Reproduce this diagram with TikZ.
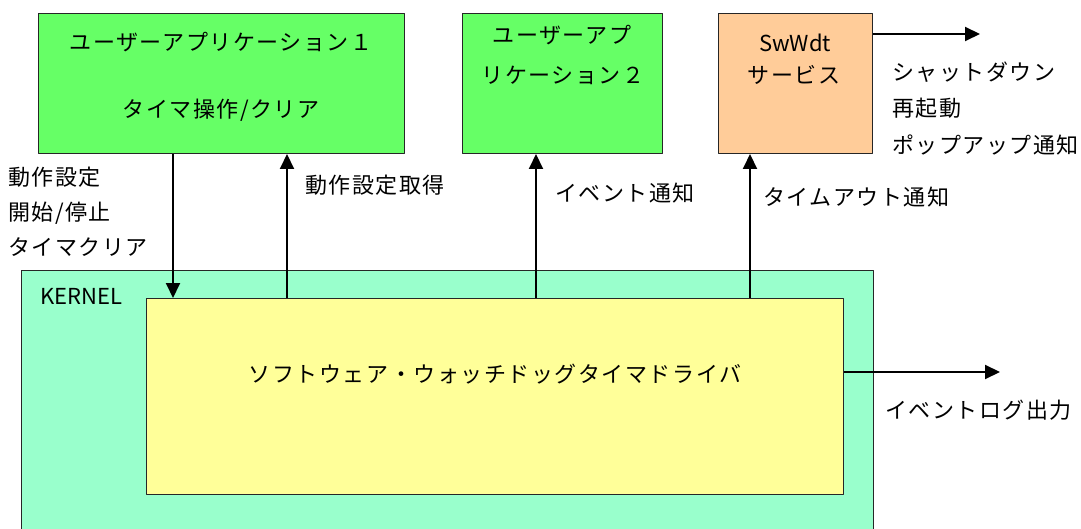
\documentclass[tikz,border=0pt]{standalone}
\usepackage{fontspec}
\setmainfont{Noto Sans CJK JP}[LetterSpace=7]
\newfontfamily\latinfont{Noto Sans CJK JP}
\usetikzlibrary{arrows.meta}
\definecolor{appgreen}{RGB}{102,255,102}
\definecolor{swpeach}{RGB}{255,204,153}
\definecolor{kernelmint}{RGB}{153,255,204}
\definecolor{drvyellow}{RGB}{255,255,153}
\begin{document}
\begin{tikzpicture}[x=1pt, y=-1pt, >={Triangle[length=15pt,width=14pt]}, font=\fontsize{22}{26}\selectfont, line join=round,
	box/.style={draw=black!85, line width=1pt, anchor=north west, inner sep=0pt},
	lbl/.style={anchor=west, inner sep=0pt},
	txt/.style={inner sep=0pt},
	flow/.style={->, line width=2pt}]
			\useasboundingbox (0,0) rectangle (1081,529);
			% Kasten
			\node[box, fill=kernelmint, minimum width=852, minimum height=262] (kernel) at (21,270) {};
			\node[box, fill=drvyellow, minimum width=697, minimum height=196] (drv) at (146,298) {};
			\node[box, fill=appgreen, minimum width=366, minimum height=140] (app1) at (38,13) {};
			\node[box, fill=appgreen, minimum width=200, minimum height=140] (app2) at (462,13) {};
			\node[box, fill=swpeach, minimum width=154, minimum height=140] (sw) at (718,13) {};
			% Texte
			\node[txt] (app1name) at (221,42) {ユーザーアプリケーション１};
			\node[txt] (app1op) at (221,110) {タイマ操作/クリア};
			\node[txt] (app2a) at (562,35) {ユーザーアプ};
			\node[txt] (app2b) at (563,75) {リケーション２};
			\node[txt] (swname) at (795,43) {\latinfont SwWdt};
			\node[txt] (swsvc) at (794,75) {サービス};
			\node[lbl] (kname) at (40,296) {\latinfont KERNEL};
			\node[txt] (drvname) at (495,374) {ソフトウェア・ウォッチドッグタイマドライバ};
			% Pfeile
			\coordinate (c1) at (173,0); \coordinate (c2) at (287,0);
			\coordinate (c3) at (536,0); \coordinate (c4) at (750,0);
			\coordinate (swout) at (980,34); \coordinate (logout) at (1000,372);
			\draw[flow] (app1.south -| c1) -- (drv.north -| c1);
			\draw[flow] (drv.north -| c2) -- (app1.south -| c2);
			\draw[flow] (drv.north -| c3) -- (app2.south -| c3);
			\draw[flow] (drv.north -| c4) -- (sw.south -| c4);
			\draw[flow] (sw.east |- swout) -- (swout);
			\draw[flow] (drv.east |- logout) -- (logout);
			% Beschriftungen
			\node[lbl] (set1) at (8,177) {動作設定};
			\node[lbl] (set2) at (8,213) {開始/停止};
			\node[lbl] (set3) at (8,247) {タイマクリア};
			\node[lbl] (get) at (305,185) {動作設定取得};
			\node[lbl] (evt) at (555,193) {イベント通知};
			\node[lbl] (tmo) at (763,197) {タイムアウト通知};
			\node[lbl] (out1) at (892,72) {シャットダウン};
			\node[lbl] (out2) at (892,108) {再起動};
			\node[lbl] (out3) at (892,145) {ポップアップ通知};
			\node[lbl] (log) at (885,410) {イベントログ出力};
		\end{tikzpicture}
\end{document}
